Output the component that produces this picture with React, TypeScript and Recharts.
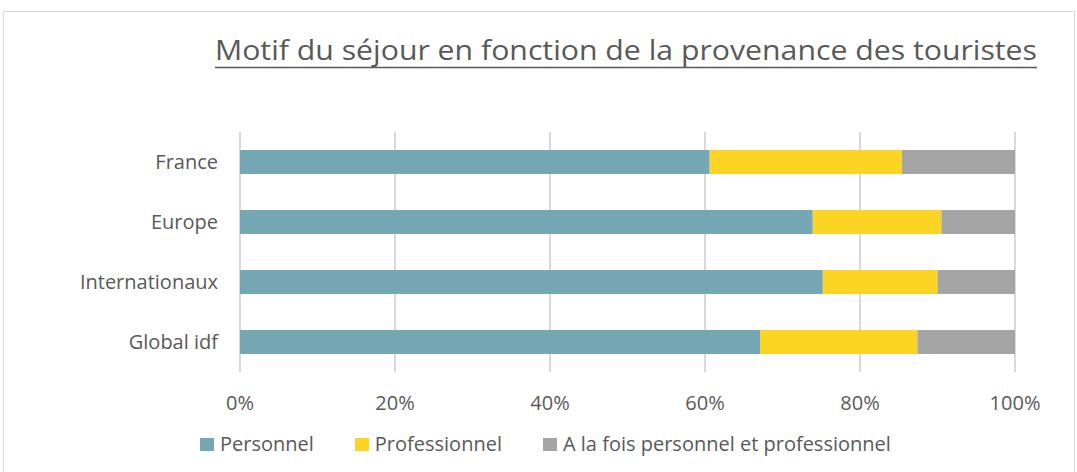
import { BarChart, Bar, XAxis, YAxis, CartesianGrid } from "recharts";

const categories = ["France", "Europe", "Internationaux", "Global idf"];
const personnel = [60.6, 73.9, 75.2, 67.1];
const professionnel = [24.8, 16.6, 14.8, 20.3];
const lesDeux = [14.6, 9.5, 10.0, 12.6];
const xTicks = [0, 0.2, 0.4, 0.6, 0.8, 1];

const series = [
  { key: "personnel", label: "Personnel", color: "#75a6b3" },
  { key: "professionnel", label: "Professionnel", color: "#fcd424" },
  { key: "lesDeux", label: "A la fois personnel et professionnel", color: "#a5a5a5" },
];

const data = categories.map((name, i) => ({
  name,
  personnel: personnel[i],
  professionnel: professionnel[i],
  lesDeux: lesDeux[i],
}));

const FONT = "'Open Sans', sans-serif";
const TEXT = "#595959";

export default function App() {
  return (
    <div style={{ position: "absolute", left: 0, top: 0, width: 1077, height: 472, background: "#fff", fontFamily: FONT }}>
      <div style={{ position: "absolute", left: 3, top: 11, width: 1070, height: 470, border: "1px solid #d9d9d9" }} />
      <BarChart
        width={1077}
        height={472}
        data={data}
        layout="vertical"
        stackOffset="expand"
        barSize={24}
        margin={{ top: 132, right: 62, bottom: 70, left: 0 }}
        style={{ position: "absolute", left: 0, top: 0 }}
      >
        <CartesianGrid horizontal={false} stroke="#d9d9d9" strokeWidth={2} />
        <XAxis
          type="number"
          domain={[0, 1]}
          ticks={xTicks}
          tickFormatter={(v: number) => `${Math.round(v * 100)}%`}
          axisLine={false}
          tickLine={false}
          tickSize={0}
          tickMargin={24}
          tick={{ fill: TEXT, fontSize: 20, fontFamily: FONT }}
        />
        <YAxis
          type="category"
          dataKey="name"
          width={240}
          axisLine={false}
          tickLine={false}
          tickSize={0}
          tickMargin={22}
          tick={{ fill: TEXT, fontSize: 20, fontFamily: FONT }}
        />
        {series.map((s) => (
          <Bar key={s.key} dataKey={s.key} name={s.label} stackId="a" fill={s.color} isAnimationActive={false} />
        ))}
      </BarChart>
      <svg width={1077} height={472} style={{ position: "absolute", left: 0, top: 0, pointerEvents: "none" }}>
        <text x={215} y={60} fill={TEXT} fontSize={28} fontFamily={FONT} textLength={822} lengthAdjust="spacingAndGlyphs">
          Motif du séjour en fonction de la provenance des touristes
        </text>
        <line x1={215} x2={1037} y1={67.5} y2={67.5} stroke={TEXT} strokeWidth={1.5} />
      </svg>
      <div
        style={{
          position: "absolute",
          top: 432,
          left: 200,
          display: "flex",
          gap: 41,
          fontSize: 20,
          color: TEXT,
          lineHeight: "24px",
          whiteSpace: "nowrap",
        }}
      >
        {series.map((s) => (
          <div key={s.key} style={{ display: "flex", alignItems: "center" }}>
            <span style={{ display: "inline-block", width: 14, height: 13, background: s.color, marginRight: 6 }} />
            <span>{s.label}</span>
          </div>
        ))}
      </div>
    </div>
  );
}
